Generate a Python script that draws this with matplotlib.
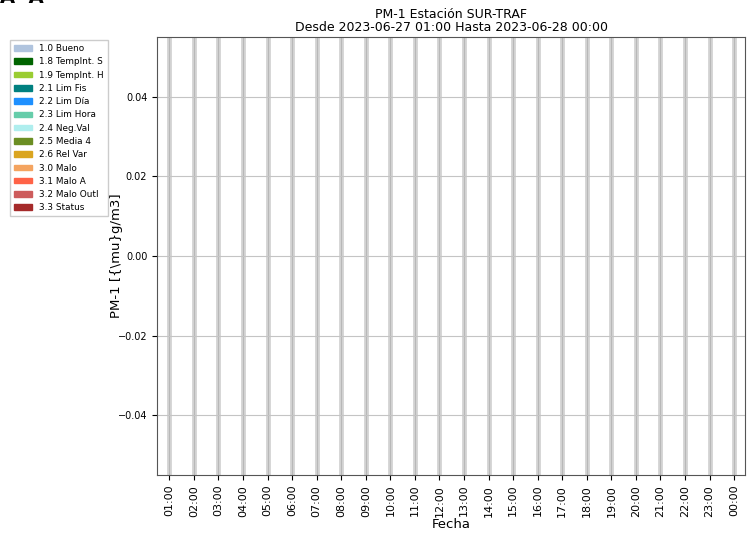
import numpy as np
import pandas as pd
import matplotlib
matplotlib.use("Agg")
import matplotlib.pyplot as plt
import matplotlib.dates as mdates
from matplotlib.patches import Patch

# datos (sin valores validos en el periodo)
horas = pd.date_range("2023-06-27 01:00", periods=24, freq="h")
valores = np.full(24, np.nan)

etiquetas = ["1.0 Bueno", "1.8 TempInt. S", "1.9 TempInt. H", "2.1 Lim Fis",
             "2.2 Lim Día", "2.3 Lim Hora", "2.4 Neg.Val", "2.5 Media 4",
             "2.6 Rel Var", "3.0 Malo", "3.1 Malo A", "3.2 Malo Outl", "3.3 Status"]
colores = ["lightsteelblue", "darkgreen", "yellowgreen", "teal", "dodgerblue",
           "mediumaquamarine", "paleturquoise", "olivedrab", "goldenrod",
           "sandybrown", "tomato", "indianred", "brown"]

fig = plt.figure(figsize=(7.55, 5.35), dpi=100)
ax = fig.add_axes([0.208, 0.112, 0.779, 0.819])

ax.bar(horas, valores, width=0.04, color=colores[0])

# bandas verticales en cada hora
for h in horas:
    ax.axvline(h, color="#d4d4d4", lw=3.5, zorder=0)
    ax.axvline(h, color="#b8b8b8", lw=0.8, zorder=0)
ax.grid(True, axis="y", color="#c4c4c4", lw=0.8)

ax.set_xlim(horas[0] - pd.Timedelta(minutes=30), horas[-1] + pd.Timedelta(minutes=27))
ax.set_ylim(-0.055, 0.055)
ax.set_xticks(horas)
ax.xaxis.set_major_formatter(mdates.DateFormatter("%H:%M"))
ax.tick_params(axis="x", labelrotation=90, labelsize=8)
ax.tick_params(axis="y", labelsize=7)
for s in ax.spines.values():
    s.set_color("#555555")

ax.set_xlabel("Fecha", fontsize=9.5)
ax.xaxis.set_label_coords(0.5, -0.097)
ax.set_ylabel("PM-1 [{\\mu}g/m3]", fontsize=9.5)
ax.yaxis.set_label_coords(-0.058, 0.5)
ax.set_title("PM-1 Estación SUR-TRAF\nDesde 2023-06-27 01:00 Hasta 2023-06-28 00:00",
             fontsize=9, linespacing=1.0, pad=4)

handles = [Patch(color=c, label=l) for c, l in zip(colores, etiquetas)]
fig.legend(handles=handles, loc="upper left", bbox_to_anchor=(0.013, 0.925),
           borderaxespad=0, fontsize=6.4, handlelength=2.0, handleheight=0.6,
           labelspacing=0.48, borderpad=0.45, handletextpad=0.85, framealpha=1,
           edgecolor="#cccccc", fancybox=False)

fig.text(0.0, 1 - 3 / 535, "A  A", fontsize=14, fontweight="bold", va="baseline")

fig.savefig("out.png", dpi=100)
